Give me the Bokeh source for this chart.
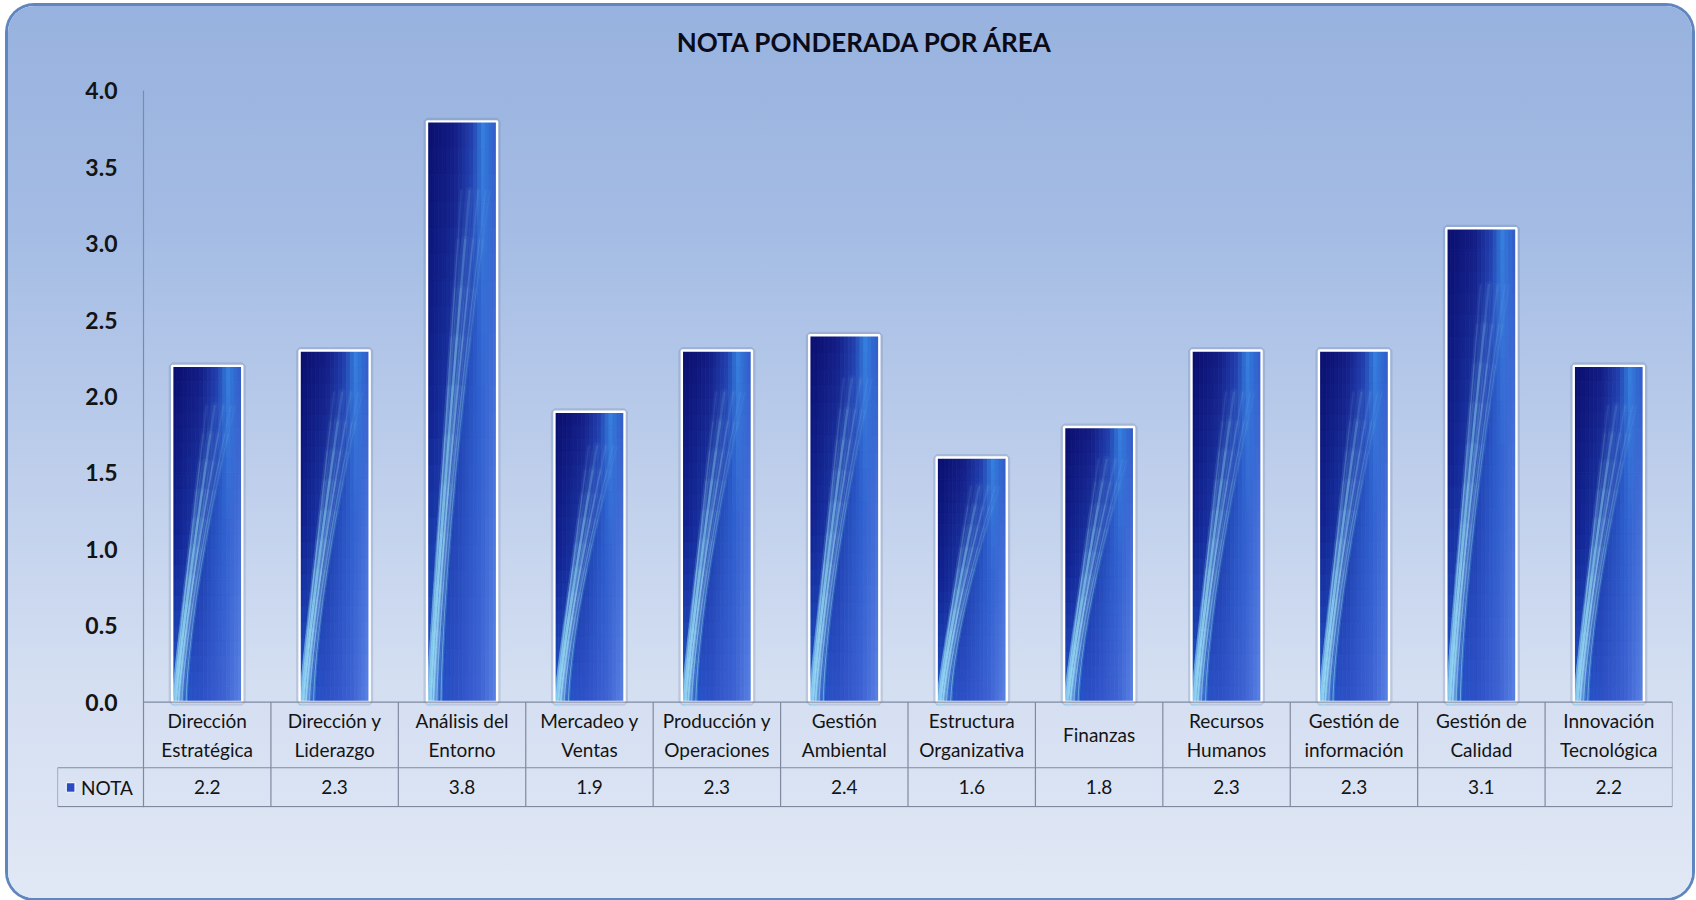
import numpy as np
from bokeh.plotting import figure
from bokeh.models import FixedTicker, PrintfTickFormatter, Range1d, LinearAxis
from bokeh.core.properties import value
from bokeh.embed import file_html
from bokeh.resources import INLINE

# ---- data -------------------------------------------------------------
title_text = "NOTA PONDERADA POR ÁREA"
series_name = "NOTA"
categories = [
    "Dirección\nEstratégica",
    "Dirección y\nLiderazgo",
    "Análisis del\nEntorno",
    "Mercadeo y\nVentas",
    "Producción y\nOperaciones",
    "Gestión\nAmbiental",
    "Estructura\nOrganizativa",
    "Finanzas",
    "Recursos\nHumanos",
    "Gestión de\ninformación",
    "Gestión de\nCalidad",
    "Innovación\nTecnológica",
]
notas = [2.2, 2.3, 3.8, 1.9, 2.3, 2.4, 1.6, 1.8, 2.3, 2.3, 3.1, 2.2]
y_ticks = [0.0, 0.5, 1.0, 1.5, 2.0, 2.5, 3.0, 3.5, 4.0]

# ---- layout constants ---------------------------------------------------
FONT = "Lato"
BAR_W = 0.55
HEADER_Y = -0.43        # line between category row and value row
TABLE_BOTTOM = -0.684
Y_MIN, Y_MAX = -0.69, 4.1
AXIS_TOP = 4.0
NOTA_LEFT = -0.675      # left edge of the series-name cell
GRID_COLOR = "#7f8aa0"
TEXT_COLOR = "#141414"

n = len(notas)
centers = [i + 0.5 for i in range(n)]

p = figure(
    width=1684, height=892,
    x_range=Range1d(NOTA_LEFT, n), y_range=Range1d(Y_MIN, Y_MAX),
    x_axis_location=None, y_axis_location=None,
    output_backend="svg", toolbar_location=None,
    min_border_left=49, min_border_right=20,
    min_border_top=67, min_border_bottom=91,
)
p.margin = (6, 4, 2, 8)
p.styles = {
    "background": "linear-gradient(to bottom, #98b2df 0%, #a4bce4 25%, #bccdeb 50%, "
                  "#d3def1 75%, #e1e8f5 100%)",
    "border-radius": "26px",
    "box-shadow": "0 0 0 3px #5f86bf",
}
p.background_fill_color = None
p.border_fill_color = None
p.outline_line_color = None
p.grid.visible = False

# title
p.title.text = title_text
p.title.align = "center"
p.title.text_font = FONT
p.title.text_font_size = "26px"
p.title.text_font_style = "bold"
p.title.text_color = "#0b0b18"
p.title.standoff = 35

# value axis, pinned at the left edge of the category columns
yax = LinearAxis(fixed_location=0, bounds=(Y_MIN, AXIS_TOP))
yax.ticker = FixedTicker(ticks=y_ticks)
yax.formatter = PrintfTickFormatter(format="%.1f")
yax.major_label_text_font = FONT
yax.major_label_text_font_size = "23px"
yax.major_label_text_font_style = "bold"
yax.major_label_text_color = TEXT_COLOR
yax.major_label_standoff = 20
yax.major_tick_line_color = None
yax.minor_tick_line_color = None
yax.axis_line_color = GRID_COLOR
yax.axis_line_width = 1.2
p.add_layout(yax, "left")


# ---- bar fill: stretched picture-like gradient --------------------------
def hexrgb(h):
    return tuple(int(h[k:k + 2], 16) for k in (1, 3, 5))


def mix(c1, c2, t):
    return tuple(c1[k] + (c2[k] - c1[k]) * t for k in range(3))


def ramp(stops, u):
    for (u0, c0), (u1, c1) in zip(stops, stops[1:]):
        if u <= u1:
            return mix(hexrgb(c0), hexrgb(c1), (u - u0) / (u1 - u0))
    return hexrgb(stops[-1][1])


TOP = [(0, "#0a0e6c"), (0.4, "#141c84"), (0.65, "#2240ae"), (0.8, "#3580de"),
       (0.92, "#2f66cf"), (1, "#3658c6")]
MID = [(0, "#0f1d8c"), (0.4, "#1d3eac"), (0.75, "#2f60cf"), (1, "#4a72da")]
BOT = [(0, "#2058cc"), (0.4, "#2d50c6"), (0.75, "#3e62d2"), (1, "#5b84e4")]


def shade(u, v):
    if v > 0.5:
        c = mix(ramp(MID, u), ramp(TOP, u), (v - 0.5) / 0.5)
    else:
        c = mix(ramp(BOT, u), ramp(MID, u), v / 0.5)
    return "#%02x%02x%02x" % tuple(int(round(x)) for x in c)


NU, NV = 18, 22
ql, qr, qb, qt, qc = [], [], [], [], []
for i, val in enumerate(notas):
    x0 = centers[i] - BAR_W / 2
    for a in range(NU):
        u = (a + 0.5) / NU
        for b in range(NV):
            v = (b + 0.5) / NV
            ql.append(x0 + BAR_W * a / NU)
            qr.append(x0 + BAR_W * (a + 1) / NU)
            qb.append(val * b / NV)
            qt.append(val * (b + 1) / NV)
            qc.append(shade(u, v))

# soft shadow behind bars
p.quad(left=[c - BAR_W / 2 for c in centers], right=[c + BAR_W / 2 for c in centers],
       bottom=0, top=notas, fill_color=None, line_color="#4a5f8a",
       line_alpha=0.18, line_width=7)
p.quad(left=ql, right=qr, bottom=qb, top=qt, fill_color=qc, line_color=qc,
       line_width=0.8)

# light streaks fanning up from the lower left of each bar:
# (start u, end u, curvature, glow alpha, core alpha, core width)
streaks = [(0.05, 0.62, 1.15, 0.40, 0.95, 2.4),
           (0.09, 0.75, 1.25, 0.30, 0.75, 1.7),
           (0.02, 0.50, 1.05, 0.26, 0.65, 1.4),
           (0.14, 0.86, 1.35, 0.22, 0.55, 1.3),
           (0.20, 0.92, 1.5, 0.16, 0.45, 1.1)]
# each streak is layered from strokes of different lengths, so it fades upward
LAYERS = list(np.linspace(0.12, 0.88, 10))
mx, my, ma, mw = [], [], [], []
for i, val in enumerate(notas):
    x0 = centers[i] - BAR_W / 2
    for u0, u1, curv, glow, core, lw in streaks:
        for v_end in LAYERS:
            vs = np.linspace(0.0, v_end, 30)
            us = u0 + (u1 - u0) * (vs / 0.9) ** curv
            for alpha, width in ((glow, lw * 3.5), (core, lw)):
                mx.append(list(x0 + BAR_W * us))
                my.append(list(val * vs))
                ma.append(alpha / len(LAYERS) * 1.3)
                mw.append(width)
p.multi_line(xs=mx, ys=my, line_color="#a6ecff", line_alpha=ma, line_width=mw,
             line_cap="round", line_join="round")

# white bar outline
p.quad(left=[c - BAR_W / 2 for c in centers], right=[c + BAR_W / 2 for c in centers],
       bottom=0, top=notas, fill_color=None, line_color="white", line_width=2.4)

# ---- data table under the plot -----------------------------------------
p.segment(x0=[0, NOTA_LEFT, NOTA_LEFT], x1=[n, n, n], y0=[0, HEADER_Y, TABLE_BOTTOM],
          y1=[0, HEADER_Y, TABLE_BOTTOM], line_color=GRID_COLOR, line_width=1.2)
p.segment(x0=[NOTA_LEFT] + list(range(1, n + 1)), x1=[NOTA_LEFT] + list(range(1, n + 1)),
          y0=[HEADER_Y] + [0] * n, y1=TABLE_BOTTOM,
          line_color=GRID_COLOR, line_width=1.2)

p.text(x=centers, y=-0.215, text=categories, text_align="center",
       text_baseline="middle", text_font=value(FONT), text_font_size="19px",
       text_color=TEXT_COLOR, text_line_height=1.25)
p.text(x=centers, y=-0.557, text=["%.1f" % v for v in notas], text_align="center",
       text_baseline="middle", text_font=value(FONT), text_font_size="19px",
       text_color=TEXT_COLOR)

# series-name cell: legend key + name
p.quad(left=[-0.606], right=[-0.538], bottom=[-0.59], top=[-0.528],
       fill_color="#2a4cc0", line_color="white", line_width=1)
p.text(x=[-0.49], y=[-0.557], text=[series_name], text_baseline="middle",
       text_font=value(FONT), text_font_size="19px", text_color=TEXT_COLOR)

open("out.html", "w").write(file_html(p, INLINE))
